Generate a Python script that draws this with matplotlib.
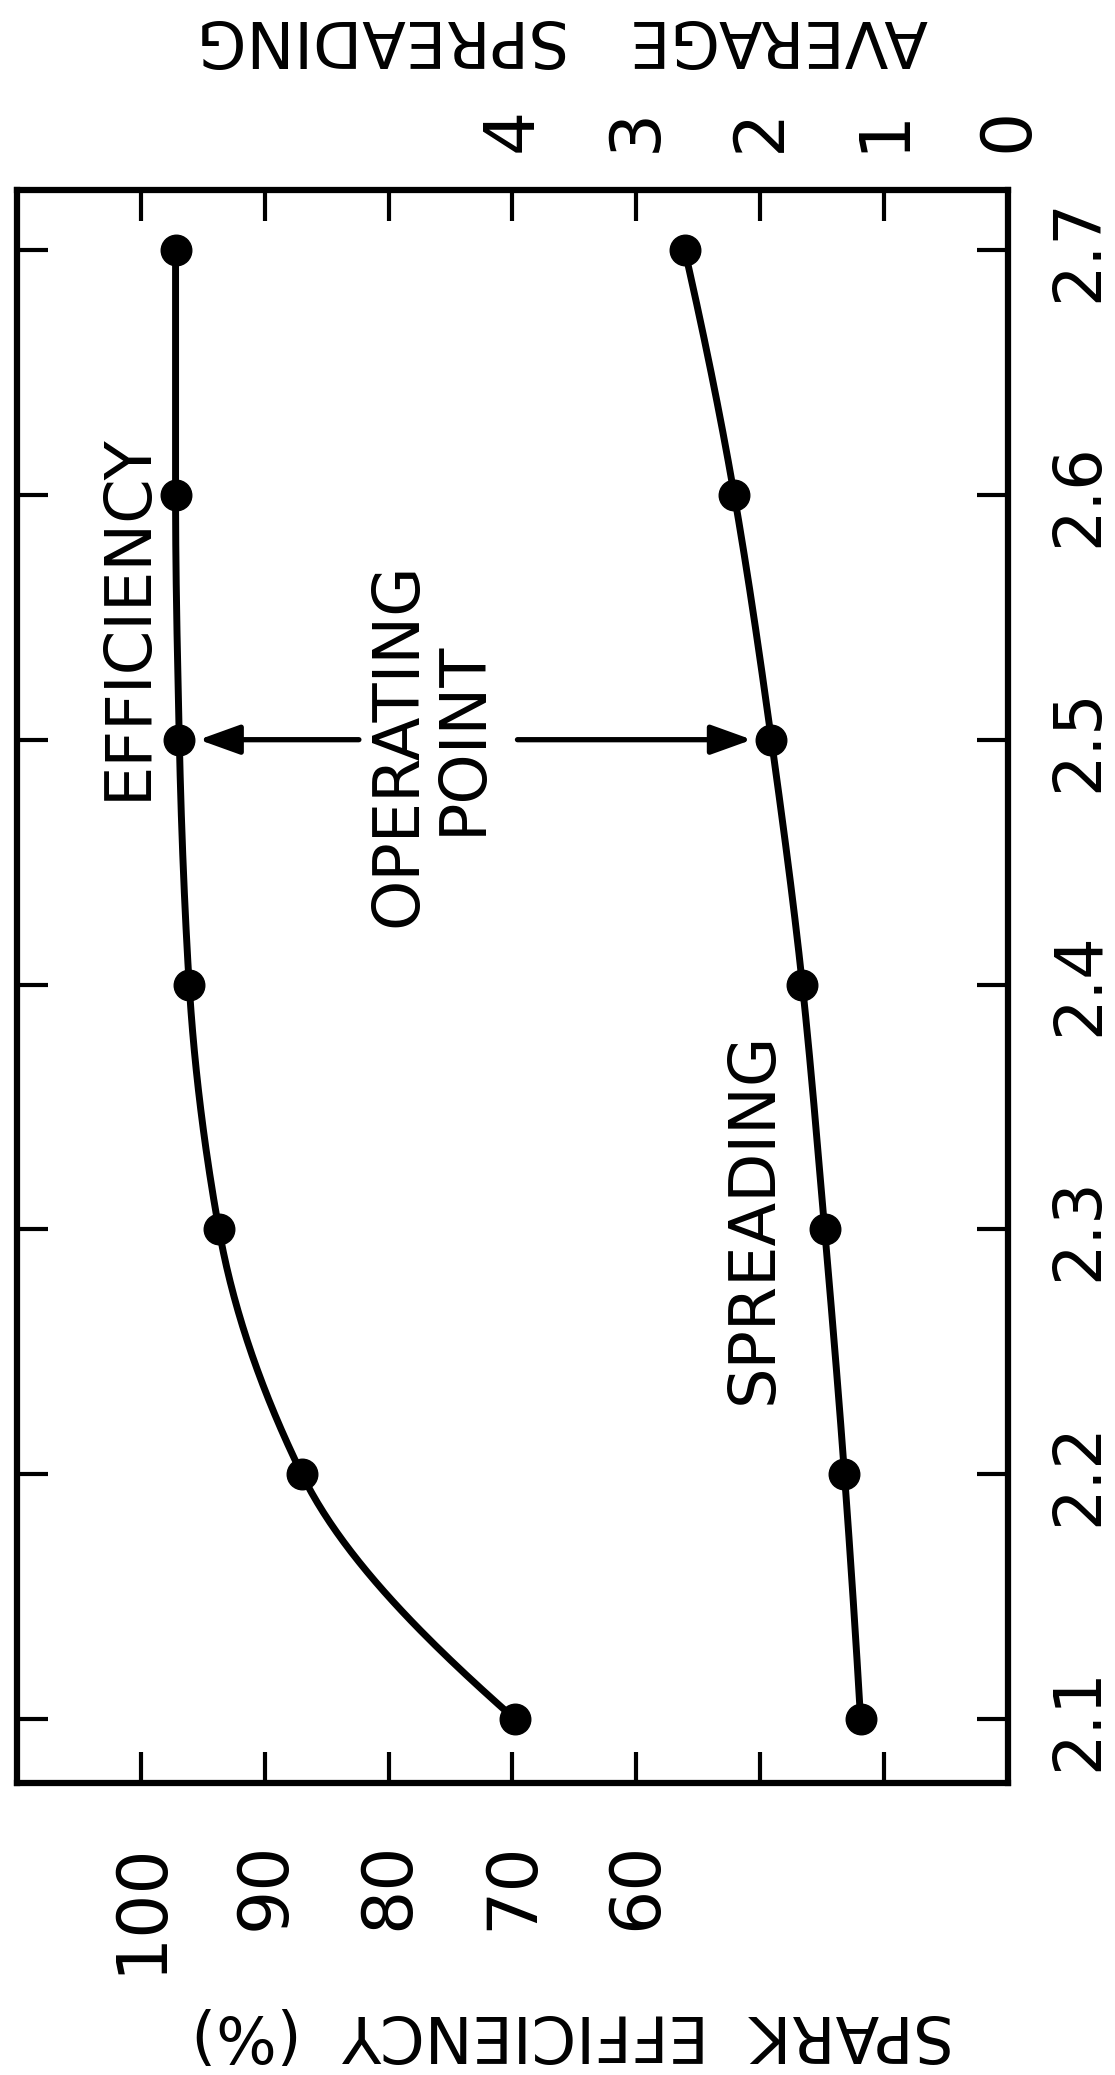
import numpy as np
import matplotlib
matplotlib.use("Agg")
import matplotlib.pyplot as plt
from matplotlib import transforms

# ---- data ----
ratio = [2.1, 2.2, 2.3, 2.4, 2.5, 2.6, 2.7]
efficiency = [69.8, 87.0, 93.7, 96.1, 96.9, 97.2, 97.2]
spreading = [1.19, 1.32, 1.48, 1.66, 1.91, 2.21, 2.61]
ratio_ticks = [2.1, 2.2, 2.3, 2.4, 2.5, 2.6, 2.7]
eff_ticks = [100, 90, 80, 70, 60, 50, 40]
eff_labels = ["100", "90", "80", "70", "60", "", ""]
spread_ticks = [4, 3, 2, 1, 0]
operating_ratio = 2.5

plt.rcParams['font.family'] = ['DejaVu Sans']


def pchip(xk, yk, xs):
    xk = np.asarray(xk, float); yk = np.asarray(yk, float)
    h = np.diff(xk); d = np.diff(yk) / h
    n = len(xk); m = np.zeros(n)
    for k in range(1, n - 1):
        if d[k - 1] * d[k] > 0:
            w1 = 2 * h[k] + h[k - 1]; w2 = h[k] + 2 * h[k - 1]
            m[k] = (w1 + w2) / (w1 / d[k - 1] + w2 / d[k])
    def endpoint(h0, h1, d0, d1):
        v = ((2 * h0 + h1) * d0 - h0 * d1) / (h0 + h1)
        if np.sign(v) != np.sign(d0):
            v = 0.0
        elif np.sign(d0) != np.sign(d1) and abs(v) > abs(3 * d0):
            v = 3 * d0
        return v
    m[0] = endpoint(h[0], h[1], d[0], d[1])
    m[-1] = endpoint(h[-1], h[-2], d[-1], d[-2])
    idx = np.clip(np.searchsorted(xk, xs) - 1, 0, n - 2)
    t = (xs - xk[idx]) / h[idx]
    h00 = 2 * t**3 - 3 * t**2 + 1; h10 = t**3 - 2 * t**2 + t
    h01 = -2 * t**3 + 3 * t**2; h11 = t**3 - t**2
    return h00 * yk[idx] + h10 * h[idx] * m[idx] + h01 * yk[idx + 1] + h11 * h[idx] * m[idx + 1]


W, H = 1115, 2075
fig = plt.figure(figsize=(W / 100, H / 100), dpi=100)
fig.patch.set_facecolor('white')
L, R, T, B = 17, 1008, 190, 1783
ax = fig.add_axes([L / W, 1 - B / H, (R - L) / W, (B - T) / H])
ax.set_xlim(110, 30)
ax.set_ylim(2.0739, 2.7245)

ax2 = ax.twiny()
ax2.set_xlim(8, 0)
for s in ax2.spines.values():
    s.set_visible(False)

lw = 5.0
ms = 22
ys = np.linspace(ratio[0], ratio[-1], 300)
ax.plot(pchip(ratio, efficiency, ys), ys, color='black', lw=lw, solid_capstyle='round')
ax.plot(efficiency, ratio, 'o', color='black', ms=ms)
ax2.plot(pchip(ratio, spreading, ys), ys, color='black', lw=lw, solid_capstyle='round')
ax2.plot(spreading, ratio, 'o', color='black', ms=ms)

for s in ax.spines.values():
    s.set_linewidth(4.5)

tkfs = 50
ax.set_xticks(eff_ticks)
ax.set_xticklabels(eff_labels, rotation=90, ha='center', va='top', fontsize=tkfs)
ax.set_yticks(ratio_ticks)
ax.set_yticklabels([f"{v:.1f}" for v in ratio_ticks], rotation=90, ha='left', va='center', fontsize=47)
ax.tick_params(axis='both', which='major', direction='in', length=22, width=3,
               top=True, bottom=True, left=True, right=True,
               labelleft=False, labelright=True, labelbottom=True, labeltop=False)
ax.tick_params(axis='x', pad=42)
ax.tick_params(axis='y', pad=28.5)

ax2.set_xticks(spread_ticks)
ax2.set_xticklabels([str(v) for v in spread_ticks], rotation=90, ha='center', va='bottom', fontsize=tkfs)
ax2.tick_params(axis='x', length=0, pad=27, top=True, bottom=False, labeltop=True, labelbottom=False)

tfs = 46
ax.text(0.112, 0.732, "EFFICIENCY", transform=ax.transAxes, rotation=90,
        ha='center', va='center', fontsize=tfs)
ax.text(0.743, 0.3547, "SPREADING", transform=ax.transAxes, rotation=90,
        ha='center', va='center', fontsize=tfs)
ax.text(0.3845, 0.652, "OPERATING", transform=ax.transAxes, rotation=90,
        ha='center', va='center', fontsize=tfs)
ax.text(0.450, 0.656, "POINT", transform=ax.transAxes, rotation=90,
        ha='center', va='center', fontsize=tfs)

# arrows pointing to the operating point on each curve
op = ratio.index(operating_ratio)
blend = transforms.blended_transform_factory(ax.transAxes, ax.transData)
aprops = dict(arrowstyle='-|>,head_length=1.25,head_width=0.45', color='black',
              lw=3.8, shrinkA=0, shrinkB=14, mutation_scale=20)
ax.annotate("", xy=(efficiency[op], ratio[op]), xycoords='data',
            xytext=(0.345, ratio[op]), textcoords=blend, arrowprops=aprops)
ax2.annotate("", xy=(spreading[op], ratio[op]), xycoords='data',
             xytext=(0.505, ratio[op]), textcoords=blend, arrowprops=aprops)

fig.text(573 / W, 1 - 2033 / H, "SPARK  EFFICIENCY  (%)", rotation=180,
         ha='center', va='center', fontsize=tfs)
fig.text(562 / W, 1 - 38 / H, "AVERAGE   SPREADING", rotation=180,
         ha='center', va='center', fontsize=tfs)

fig.savefig("out.png", dpi=100, facecolor='white')
